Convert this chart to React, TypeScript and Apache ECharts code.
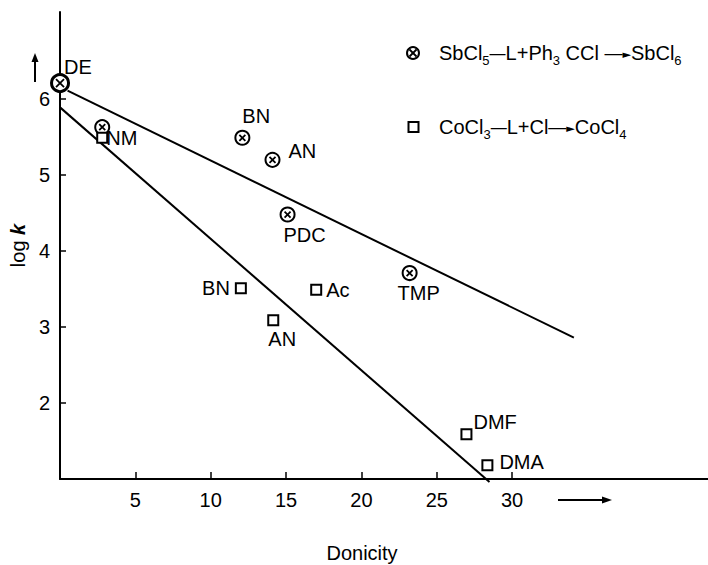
import { useEffect, useRef } from "react";
import * as echarts from "echarts";

// ---- data ----
const circleNames = ["DE", "NM", "BN", "AN", "PDC", "TMP"];
const circleDonicity = [0, 2.8, 12.1, 14.1, 15.1, 23.2];
const circleLogK = [6.21, 5.63, 5.49, 5.2, 4.48, 3.71];

const squareNames = ["NM", "BN", "AN", "Ac", "DMF", "DMA"];
const squareDonicity = [2.8, 12.0, 14.15, 17.0, 26.97, 28.36];
const squareLogK = [5.49, 3.51, 3.09, 3.49, 1.59, 1.18];

const upperFitX = [0.5, 34.1];
const upperFitY = [6.11, 2.86];
const lowerFitX = [0, 28.5];
const lowerFitY = [5.89, 0.96];

const xTickValues = [5, 10, 15, 20, 25, 30];
const yTickValues = [2, 3, 4, 5, 6];

const legendCircleText = "SbCl{s|5}{d|—}L+Ph{s|3} CCl {a|—}{h|►}SbCl{s|6}";
const legendSquareText = "CoCl{s|3}{d|—}L+Cl{a|—}{h|►}CoCl{s|4}";

// ---- label placement (style, not data) ----
const circleLabelPlacement: Record<string, any> = {
  DE: { align: "left", offset: [4, -16] },
  NM: null,
  BN: { align: "left", offset: [0, -22] },
  AN: { align: "left", offset: [16, -9] },
  PDC: { align: "center", offset: [17, 20] },
  TMP: { align: "center", offset: [9, 20] },
};
const squareLabelPlacement: Record<string, any> = {
  NM: { align: "left", offset: [4, 0] },
  BN: { align: "right", offset: [-11, 0] },
  AN: { align: "center", offset: [9, 19] },
  Ac: { align: "left", offset: [10, 0] },
  DMF: { align: "left", offset: [7, -12] },
  DMA: { align: "left", offset: [12, -3] },
};

const FONT = "Liberation Sans";
const FS = 20;

function labelFor(p: any) {
  if (!p) return { show: false };
  return {
    show: true,
    position: "inside",
    align: p.align,
    verticalAlign: "middle",
    offset: p.offset,
    color: "#000",
    fontFamily: FONT,
    fontSize: FS,
    textBorderWidth: 0,
    formatter: "{b}",
  };
}

const legendRich = {
  s: { fontSize: 13, fontFamily: FONT, padding: [14, 0, 0, 0], fill: "#000" },
  d: { fontSize: 16, fontFamily: FONT, fill: "#000" },
  a: { fontSize: 18, fontFamily: FONT, fill: "#000" },
  h: { fontSize: 11, fontFamily: "DejaVu Sans", fill: "#000", padding: [2, 0, 0, 0] },
};

export default function App() {
  const ref = useRef<HTMLDivElement>(null);
  useEffect(() => {
    if (!ref.current) return;
    const chart = echarts.init(ref.current, undefined, { renderer: "svg" });

    const circleData = circleNames.map((n, i) => ({
      name: n,
      value: [circleDonicity[i], circleLogK[i]],
      symbolSize: i === 0 ? 17 : 14,
      itemStyle: { borderWidth: i === 0 ? 3 : 2 },
      label: labelFor(circleLabelPlacement[n]),
    }));
    const crossData = circleNames.map((n, i) => ({
      name: n,
      value: [circleDonicity[i], circleLogK[i]],
      symbolSize: i === 0 ? 8 : 6,
    }));
    const squareData = squareNames.map((n, i) => ({
      name: n,
      value: [squareDonicity[i], squareLogK[i]],
      label: labelFor(squareLabelPlacement[n]),
    }));

    const lx = 413, ly1 = 53, ly2 = 127;

    chart.setOption({
      animation: false,
      backgroundColor: "#fff",
      grid: { left: 60, right: 0, top: 12, bottom: 86, containLabel: false },
      xAxis: {
        type: "value",
        min: 0,
        max: 43,
        splitLine: { show: false },
        axisLine: { show: true, onZero: false, lineStyle: { color: "#000", width: 2 } },
        axisTick: {
          show: true,
          inside: true,
          length: 7,
          customValues: xTickValues,
          lineStyle: { color: "#000", width: 1.5 },
        },
        axisLabel: {
          customValues: xTickValues,
          margin: 11,
          color: "#000",
          fontFamily: FONT,
          fontSize: FS,
        },
      },
      yAxis: {
        type: "value",
        min: 1,
        max: 7.145,
        splitLine: { show: false },
        name: "log {i|k}",
        nameLocation: "middle",
        nameGap: 32,
        nameTextStyle: {
          color: "#000",
          fontFamily: FONT,
          fontSize: FS,
          rich: {
            i: { fontStyle: "italic", fontWeight: "bold", fontSize: FS, fontFamily: FONT, color: "#000" },
          },
        },
        axisLine: { show: true, onZero: false, lineStyle: { color: "#000", width: 2 } },
        axisTick: {
          show: true,
          inside: true,
          length: 6,
          customValues: yTickValues,
          lineStyle: { color: "#000", width: 1.5 },
        },
        axisLabel: {
          customValues: yTickValues,
          margin: 10,
          color: "#000",
          fontFamily: FONT,
          fontSize: FS,
        },
      },
      series: [
        {
          type: "line",
          data: upperFitX.map((x, i) => [x, upperFitY[i]]),
          symbol: "none",
          clip: false,
          z: 1,
          lineStyle: { color: "#000", width: 2 },
          silent: true,
        },
        {
          type: "line",
          data: lowerFitX.map((x, i) => [x, lowerFitY[i]]),
          symbol: "none",
          clip: false,
          z: 1,
          lineStyle: { color: "#000", width: 2 },
          silent: true,
        },
        {
          type: "scatter",
          data: circleData,
          symbol: "circle",
          z: 3,
          itemStyle: { color: "#fff", borderColor: "#000", borderWidth: 2, opacity: 1 },
        },
        {
          type: "scatter",
          data: crossData,
          symbol: "path://M0 0L10 10M10 0L0 10",
          z: 4,
          silent: true,
          itemStyle: { color: "none", borderColor: "#000", borderWidth: 1.8, opacity: 1 },
          label: { show: false },
        },
        {
          type: "scatter",
          data: squareData,
          symbol: "rect",
          symbolSize: 10,
          z: 3,
          itemStyle: { color: "#fff", borderColor: "#000", borderWidth: 2, opacity: 1 },
        },
      ],
      graphic: [
        // legend
        { type: "circle", shape: { cx: lx, cy: ly1, r: 6 }, style: { fill: "#fff", stroke: "#000", lineWidth: 2 } },
        { type: "line", shape: { x1: lx - 3.5, y1: ly1 - 3.5, x2: lx + 3.5, y2: ly1 + 3.5 }, style: { stroke: "#000", lineWidth: 1.8 } },
        { type: "line", shape: { x1: lx + 3.5, y1: ly1 - 3.5, x2: lx - 3.5, y2: ly1 + 3.5 }, style: { stroke: "#000", lineWidth: 1.8 } },
        {
          type: "text",
          x: 439,
          y: ly1,
          style: {
            text: legendCircleText,
            fill: "#000",
            fontFamily: FONT,
            fontSize: FS,
            verticalAlign: "middle",
            align: "left",
            rich: legendRich,
          },
        },
        { type: "rect", shape: { x: lx - 4.5, y: ly2 - 5, width: 10, height: 10 }, style: { fill: "#fff", stroke: "#000", lineWidth: 2 } },
        {
          type: "text",
          x: 439,
          y: ly2,
          style: {
            text: legendSquareText,
            fill: "#000",
            fontFamily: FONT,
            fontSize: FS,
            verticalAlign: "middle",
            align: "left",
            rich: legendRich,
          },
        },
        // up arrow near y axis
        { type: "line", shape: { x1: 35, y1: 82, x2: 35, y2: 58 }, style: { stroke: "#000", lineWidth: 2 } },
        { type: "polygon", shape: { points: [[31.5, 62], [35, 53], [38.5, 62]] }, style: { fill: "#000" } },
        // right arrow under x axis
        { type: "line", shape: { x1: 558, y1: 500, x2: 604, y2: 500 }, style: { stroke: "#000", lineWidth: 2 } },
        { type: "polygon", shape: { points: [[602, 496.5], [612, 500], [602, 503.5]] }, style: { fill: "#000" } },
        // x axis title
        {
          type: "text",
          x: 362,
          y: 553,
          style: { text: "Donicity", fill: "#000", fontFamily: FONT, fontSize: FS, align: "center", verticalAlign: "middle" },
        },
      ],
    });
    return () => chart.dispose();
  }, []);
  return (
    <div
      ref={ref}
      style={{ position: "fixed", left: 0, top: 0, width: 708, height: 565, background: "#fff" }}
    />
  );
}
